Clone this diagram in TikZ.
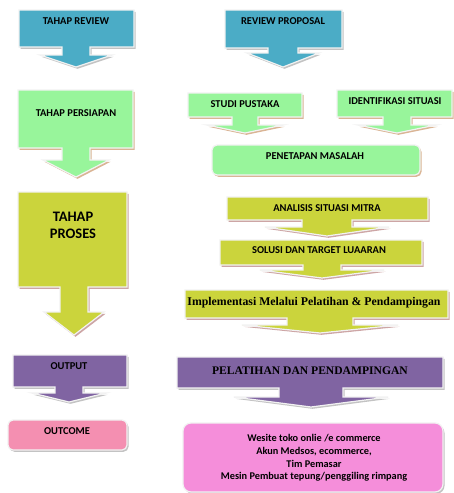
\documentclass[tikz,border=0pt]{standalone}
\usepackage{fontspec}
\setmainfont{Carlito}
\newfontfamily\timesf{Liberation Serif}
\definecolor{cteal}{RGB}{75,172,198}
\definecolor{cgreen}{RGB}{152,245,155}
\definecolor{cyel}{RGB}{203,212,60}
\definecolor{cpurp}{RGB}{128,100,162}
\definecolor{cpink}{RGB}{244,143,177}
\definecolor{corch}{RGB}{245,142,218}
\definecolor{shgray}{RGB}{195,195,195}
\definecolor{shtan}{RGB}{218,180,148}
\definecolor{shrose}{RGB}{205,165,165}
\tikzset{
  cb/.style={fill=cteal, draw=white!90!gray, line width=1.2pt},
  cbsh/.style={fill=shgray},
  cg/.style={fill=cgreen, draw=white!90!gray, line width=1.2pt},
  cgsh/.style={fill=shtan},
  cy/.style={fill=cyel, draw=white!90!gray, line width=1.2pt},
  cysh/.style={fill=shrose},
  cp/.style={fill=cpurp, draw=white!90!gray, line width=1.2pt},
  cpsh/.style={fill=shgray},
  lbl/.style={font=\bfseries\fontsize{10.5}{12.5}\selectfont, text=black, inner sep=0pt, align=center},
  biglbl/.style={font=\bfseries\fontsize{14.5}{17}\selectfont, text=black, inner sep=0pt, align=center},
  serlbl/.style={font=\timesf\bfseries\fontsize{11.8}{13}\selectfont, text=black, inner sep=0pt},
  rbox/.style={draw=white!90!gray, line width=1.2pt, rounded corners=5pt},
}
% #1 style, #2 x1, #3 y1, #4 x2, #5 y2 (box bottom), #6 cx, #7 stem half, #8 head half, #9 head top; then {tip y}
\newcommand\callout[9]{%
  \def\calloutB##1{%
    \path[#1sh, shift={(1.5,1.8)}] (#2,#3) -- (#4,#3) -- (#4,#5) -- ({#6+#7},#5) -- ({#6+#7},#9) -- ({#6+#8},#9) -- (#6,##1) -- ({#6-#8},#9) -- ({#6-#7},#9) -- ({#6-#7},#5) -- (#2,#5) -- cycle;
    \path[#1] (#2,#3) -- (#4,#3) -- (#4,#5) -- ({#6+#7},#5) -- ({#6+#7},#9) -- ({#6+#8},#9) -- (#6,##1) -- ({#6-#8},#9) -- ({#6-#7},#9) -- ({#6-#7},#5) -- (#2,#5) -- cycle;
  }\calloutB}
\begin{document}
\begin{tikzpicture}[x=1pt,y=-1pt]
\useasboundingbox[fill=white] (0,0) rectangle (453,493);
% left column
\callout{cb}{19}{10}{134}{47}{76}{14}{36}{55}{67}
\node[lbl] (treview) at (76,21) {TAHAP REVIEW};
\callout{cg}{18}{90}{133}{148}{76}{14}{33}{160}{177}
\node[lbl] (tpersiapan) at (76,113) {TAHAP PERSIAPAN};
\callout{cy}{18}{192}{127}{287}{74}{14}{30}{312}{335}
\node[biglbl] (tproses) at (73,225) {TAHAP\\PROSES};
\callout{cp}{13}{355}{127}{387}{69}{14}{37}{393}{402}
\node[lbl] (output) at (69,366) {OUTPUT};
\fill[shgray, rounded corners=5pt] (9.5,421.8) rectangle (128.5,451.8);
\draw[rbox, fill=cpink] (8,420) rectangle (127,450);
\node[lbl] (outcome) at (67,431) {OUTCOME};
% right column
\callout{cb}{225}{10}{342}{48}{283}{15}{36}{53}{67}
\node[lbl] (rproposal) at (283,21) {REVIEW PROPOSAL};
\callout{cg}{188}{93}{302}{117}{245}{13}{38}{125}{133}
\node[lbl] (studi) at (245,104) {STUDI PUSTAKA};
\callout{cg}{337}{90}{452}{117}{397}{14}{39}{125}{133}
\node[lbl] (identifikasi) at (395,101) {IDENTIFIKASI SITUASI};
\fill[shtan, rounded corners=5pt] (213.5,146.8) rectangle (421.5,176.8);
\draw[rbox, fill=cgreen] (212,145) rectangle (420,175);
\node[lbl] (penetapan) at (315,156) {PENETAPAN MASALAH};
\callout{cy}{227}{197}{428}{220}{327}{25}{62}{227}{236}
\node[lbl] (analisis) at (327,208) {ANALISIS SITUASI MITRA};
\callout{cy}{220}{240}{422}{265}{322}{19}{62}{270}{278}
\node[lbl] (solusi) at (319,250) {SOLUSI DAN TARGET LUAARAN};
\callout{cy}{185}{290}{448}{318}{320}{33}{78}{325}{333}
\node[serlbl] (implementasi) at (314,303) {Implementasi Melalui Pelatihan \& Pendampingan};
\callout{cp}{177}{357}{443}{388}{311}{32}{77}{397}{407}
\node[serlbl, font=\timesf\bfseries\fontsize{11.6}{13}\selectfont] (pelatihan) at (310,371) {PELATIHAN DAN PENDAMPINGAN};
\fill[shgray, rounded corners=8pt] (184.5,424.8) rectangle (444.5,493.8);
\draw[rbox, rounded corners=8pt, fill=corch] (183,423) rectangle (443,492);
\node[lbl, font=\bfseries\fontsize{10.3}{12.6}\selectfont] (hasil) at (314,458) {Wesite toko onlie /e commerce\\Akun Medsos, ecommerce,\\Tim Pemasar\\Mesin Pembuat tepung/penggiling rimpang};
\end{tikzpicture}
\end{document}
